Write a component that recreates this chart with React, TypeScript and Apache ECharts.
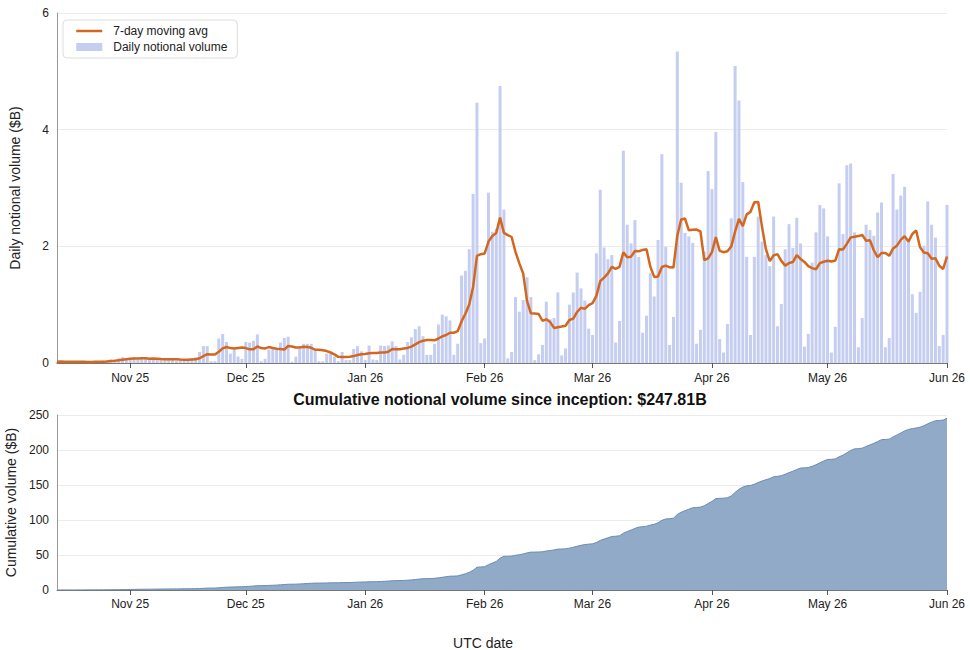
import { useEffect, useRef } from "react";
import * as echarts from "echarts";

// ---- Data (daily notional volume, $B) ----
const startDate = "2025-10-13";

const octVol = [0.02, 0.03, 0.02, 0.01, 0.02, 0.03, 0.02, 0.02, 0.01, 0.02, 0.03, 0.02, 0.04, 0.05, 0.06, 0.05, 0.08, 0.1, 0.07];
const novVol = [0.09, 0.1, 0.06, 0.08, 0.07, 0.05, 0.08, 0.07, 0.06, 0.05, 0.08, 0.06, 0.04, 0.05, 0.06, 0.05, 0.08, 0.1, 0.19, 0.29, 0.29, 0.03, 0.03, 0.42, 0.5, 0.36, 0.16, 0.23, 0.11, 0.07];
const decVol = [0.36, 0.35, 0.38, 0.49, 0.03, 0.07, 0.23, 0.26, 0.25, 0.35, 0.43, 0.45, 0.02, 0.11, 0.25, 0.33, 0.33, 0.33, 0.22, 0.03, 0.03, 0.16, 0.16, 0.11, 0.03, 0.19, 0.05, 0.05, 0.24, 0.29, 0.2];
const janVol = [0.05, 0.3, 0.06, 0.05, 0.3, 0.29, 0.3, 0.37, 0.29, 0.06, 0.14, 0.36, 0.44, 0.58, 0.63, 0.46, 0.14, 0.14, 0.33, 0.66, 0.83, 0.8, 0.73, 0.14, 0.33, 1.5, 1.58, 1.95, 2.9, 4.46, 0.34];
const febVol = [0.42, 2.92, 2.25, 2.3, 4.75, 2.63, 0.08, 0.19, 1.13, 0.88, 1.08, 1.47, 1.13, 0.05, 0.15, 0.31, 1.05, 0.75, 0.77, 1.21, 0.13, 0.25, 1.0, 1.21, 1.55, 1.28, 1.07, 0.59];
const marVol = [0.48, 1.88, 2.97, 1.98, 1.78, 1.85, 0.35, 0.72, 3.64, 2.37, 2.05, 2.45, 1.82, 0.52, 0.81, 1.54, 1.14, 2.11, 3.58, 1.99, 0.31, 0.79, 5.34, 3.09, 2.23, 2.17, 2.06, 0.33, 0.57, 1.91, 3.29];
const aprVol = [2.98, 3.96, 0.41, 0.18, 0.67, 2.48, 5.09, 4.5, 3.1, 1.82, 0.48, 1.82, 2.51, 2.08, 1.85, 1.66, 2.51, 0.63, 1.01, 1.95, 2.38, 1.97, 2.49, 2.05, 0.28, 0.5, 1.72, 2.24, 2.71, 2.65];
const mayVol = [2.17, 0.18, 0.62, 3.08, 2.21, 3.39, 3.42, 2.24, 0.27, 0.77, 2.37, 2.28, 2.18, 2.58, 2.75, 0.27, 0.43, 3.24, 2.63, 2.87, 3.02, 2.11, 1.18, 0.86, 1.22, 2.01, 2.77, 2.37, 2.15, 0.29, 0.48];
const junVol = [2.71];

const cumulativeTotalLabel = "247.81";
const monthNames = ["Jan", "Feb", "Mar", "Apr", "May", "Jun", "Jul", "Aug", "Sep", "Oct", "Nov", "Dec"];

const dailyVolume = [...octVol, ...novVol, ...decVol, ...janVol, ...febVol, ...marVol, ...aprVol, ...mayVol, ...junVol];

function buildDates(start: string, n: number): string[] {
  const out: string[] = [];
  const t0 = Date.parse(start + "T00:00:00Z");
  for (let i = 0; i < n; i++) out.push(new Date(t0 + i * 86400000).toISOString().slice(0, 10));
  return out;
}
const dates = buildDates(startDate, dailyVolume.length);

const movingAvg7 = dailyVolume.map((_, i) => {
  const w = dailyVolume.slice(Math.max(0, i - 6), i + 1);
  return +(w.reduce((a, b) => a + b, 0) / w.length).toFixed(4);
});

const cumulative: number[] = [];
dailyVolume.reduce((acc, v) => {
  const s = acc + v;
  cumulative.push(+s.toFixed(3));
  return s;
}, 0);

const FONT = "'Liberation Sans', Arial, Helvetica, sans-serif";
const isMonthStart = (_i: number, v: string) => v.endsWith("-01");
const fmtMonth = (v: string) => `${monthNames[parseInt(v.slice(5, 7), 10) - 1]} ${v.slice(2, 4)}`;

function xAxisFor(gridIndex: number, margin: number) {
  return {
    type: "category",
    gridIndex,
    data: dates,
    boundaryGap: false,
    axisLine: { show: true, lineStyle: { color: "#777", width: 1 } },
    axisTick: { show: true, interval: isMonthStart, length: 5, lineStyle: { color: "#555" } },
    axisLabel: { interval: isMonthStart, formatter: fmtMonth, margin, color: "#222", fontSize: 12, fontFamily: FONT },
    splitLine: { show: false },
  };
}

function yAxisFor(gridIndex: number, max: number, interval: number, name: string) {
  return {
    type: "value",
    gridIndex,
    min: 0,
    max,
    interval,
    name,
    nameLocation: "middle",
    nameGap: 35,
    nameTextStyle: { fontSize: 14, color: "#222", fontFamily: FONT },
    axisLine: { show: true, lineStyle: { color: "#999" } },
    axisTick: { show: false },
    axisLabel: { color: "#222", fontSize: 12, margin: 8, fontFamily: FONT },
    splitLine: { show: true, lineStyle: { color: "#ebebeb", width: 1 } },
  };
}

export default function App() {
  const ref = useRef<HTMLDivElement>(null);
  useEffect(() => {
    const chart = echarts.init(ref.current!, null, { renderer: "svg" });
    chart.setOption({
      animation: false,
      backgroundColor: "#ffffff",
      textStyle: { fontFamily: FONT },
      grid: [
        { left: 57, right: 23, top: 13, height: 350, containLabel: false, outerBoundsMode: "none" },
        { left: 57, right: 23, top: 415, height: 175, containLabel: false, outerBoundsMode: "none" },
      ],
      xAxis: [xAxisFor(0, 9), xAxisFor(1, 8)],
      yAxis: [
        yAxisFor(0, 6, 2, "Daily notional volume ($B)"),
        yAxisFor(1, 250, 50, "Cumulative volume ($B)"),
      ],
      legend: {
        orient: "vertical",
        left: 63,
        top: 20,
        padding: [5, 10, 5, 12],
        itemGap: 4,
        itemWidth: 26,
        itemHeight: 8,
        borderColor: "#dcdcdc",
        borderWidth: 1,
        borderRadius: 4,
        backgroundColor: "#fff",
        textStyle: { fontSize: 12, color: "#222", fontFamily: FONT, padding: [0, 0, 0, 6] },
        data: [
          { name: "7-day moving avg", itemStyle: { opacity: 0 }, lineStyle: { width: 2.5, opacity: 1 } },
          { name: "Daily notional volume", icon: "rect" },
        ],
      },
      series: [
        {
          name: "Daily notional volume",
          type: "bar",
          xAxisIndex: 0,
          yAxisIndex: 0,
          data: dailyVolume,
          barCategoryGap: "22%",
          itemStyle: { color: "#c5cef0" },
          z: 2,
        },
        {
          name: "7-day moving avg",
          type: "line",
          xAxisIndex: 0,
          yAxisIndex: 0,
          data: movingAvg7,
          symbol: "none",
          showSymbol: false,
          lineStyle: { color: "#d4671f", width: 2.5 },
          itemStyle: { color: "#d4671f" },
          z: 3,
        },
        {
          name: "Cumulative",
          type: "line",
          xAxisIndex: 1,
          yAxisIndex: 1,
          data: cumulative,
          symbol: "none",
          showSymbol: false,
          lineStyle: { color: "#6d8cb0", width: 1 },
          areaStyle: { color: "#90aac8", opacity: 1 },
          z: 2,
        },
      ],
      graphic: [
        {
          type: "text",
          x: 500,
          y: 399,
          style: {
            text: `Cumulative notional volume since inception: $${cumulativeTotalLabel}B`,
            align: "center",
            verticalAlign: "middle",
            fontSize: 16,
            fontWeight: "bold",
            fontFamily: FONT,
            fill: "#111",
          },
        },
        {
          type: "text",
          x: 483,
          y: 643,
          style: {
            text: "UTC date",
            align: "center",
            verticalAlign: "middle",
            fontSize: 14,
            fontFamily: FONT,
            fill: "#222",
          },
        },
      ],
    });
    return () => chart.dispose();
  }, []);
  return (
    <div
      ref={ref}
      style={{ position: "fixed", left: 0, top: 0, width: 970, height: 650, background: "#fff" }}
    />
  );
}
